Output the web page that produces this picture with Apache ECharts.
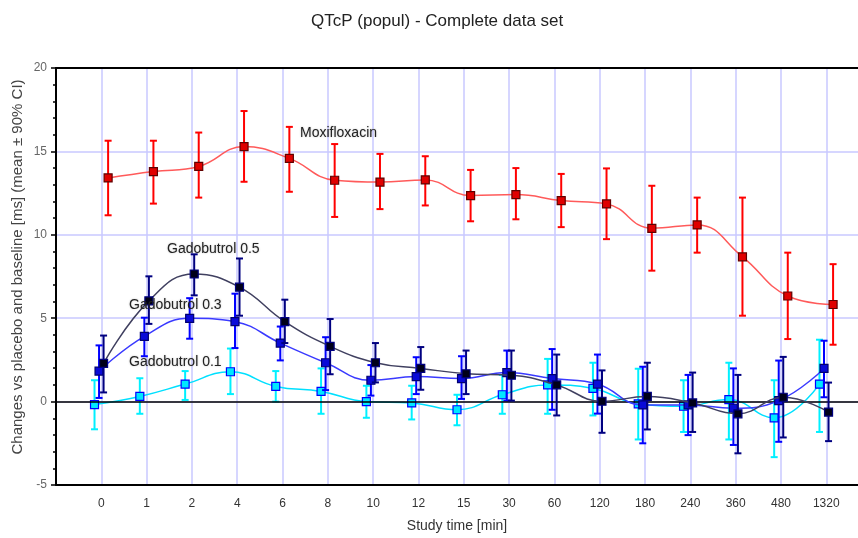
<!DOCTYPE html>
<html>
<head>
<meta charset="utf-8">
<script src="https://cdn.jsdelivr.net/npm/echarts@6/dist/echarts.min.js"></script>
<style>
html,body{margin:0;padding:0;background:#fff;}
#chart{width:858px;height:538px;}
</style>
</head>
<body>
<div id="chart"></div>
<script>
// ---- data ----
const categories = ['0','1','2','4','6','8','10','12','15','30','60','120','180','240','360','480','1320'];

const moxiMean = [13.41,13.79,14.10,15.29,14.58,13.27,13.16,13.29,12.35,12.41,12.05,11.85,10.39,10.59,8.68,6.33,5.82];
const moxiLow  = [11.17,11.87,12.23,13.18,12.58,11.07,11.54,11.76,10.81,10.93,10.46,9.74,7.85,8.93,5.15,3.75,3.41];
const moxiHigh = [15.64,15.64,16.13,17.42,16.47,15.44,14.85,14.71,13.89,14.00,13.65,13.98,12.94,12.23,12.23,8.93,8.24];

const gado05Mean = [2.29,6.04,7.65,6.86,4.79,3.31,2.33,1.99,1.67,1.58,1.00,0.02,0.31,-0.08,-0.73,0.26,-0.63];
const gado05Low  = [0.55,4.66,6.37,5.15,3.51,1.64,1.15,0.71,0.45,0.06,-0.83,-1.87,-1.67,-1.82,-3.10,-2.15,-2.37];
const gado05High = [3.96,7.51,8.83,8.58,6.11,4.95,3.51,3.27,3.06,3.06,2.82,1.87,2.33,1.74,1.60,2.68,1.14];

const gado03Mean = [1.83,3.91,4.99,4.79,3.51,2.33,1.28,1.50,1.38,1.74,1.38,1.05,-0.20,-0.20,-0.40,0.06,1.99];
const gado03Low  = [0.22,2.72,3.77,3.21,2.47,0.69,0.36,0.45,0.16,0.06,-0.49,-0.72,-2.50,-2.01,-2.60,-2.41,0.26];
const gado03High = [3.37,5.03,6.20,6.47,4.50,3.86,2.19,2.66,2.72,3.06,3.15,2.82,2.09,1.60,1.99,2.46,3.65];

const gado01Mean = [-0.18,0.31,1.05,1.79,0.91,0.61,0.00,-0.08,-0.49,0.41,1.00,0.79,-0.14,-0.28,0.12,-0.97,1.05];
const gado01Low  = [-1.66,-0.73,0.10,0.45,0.00,-0.73,-0.97,-1.07,-1.42,-0.73,-0.73,-0.83,-2.27,-1.82,-2.27,-3.33,-1.82];
const gado01High = [1.28,1.40,1.83,3.18,1.83,1.99,0.95,0.95,0.41,1.60,2.56,2.33,1.97,1.28,2.33,1.28,3.71];

const yTicks = [-5,0,5,10,15,20];

const titleText = 'QTcP (popul) - Complete data set';
const xTitle = 'Study time [min]';
const yTitle = 'Changes vs placebo and baseline [ms] (mean \u00b1 90% CI)';

// ---- chart ----
const FONT = '"Liberation Sans", Arial, sans-serif';
const chart = echarts.init(document.getElementById('chart'), null, {renderer:'canvas'});

function errRender(color){
  return function(params, api){
    const x = api.value(0);
    const lo = api.coord([x, api.value(1)]);
    const hi = api.coord([x, api.value(2)]);
    const w = 3.5;
    const st = {stroke: color, lineWidth: 2};
    return {
      type:'group',
      children:[
        {type:'line', shape:{x1:lo[0], y1:lo[1], x2:hi[0], y2:hi[1]}, style:st},
        {type:'line', shape:{x1:lo[0]-w, y1:lo[1], x2:lo[0]+w, y2:lo[1]}, style:st},
        {type:'line', shape:{x1:hi[0]-w, y1:hi[1], x2:hi[0]+w, y2:hi[1]}, style:st}
      ]
    };
  };
}

function makeSeries(name, mean, low, high, off, lineColor, barColor, fill, border, z){
  return [
    {
      type:'custom', name: name+' CI', z: z,
      data: low.map((l,i)=>[i+off, l, high[i]]),
      encode:{x:0, y:[1,2]},
      renderItem: errRender(barColor),
      silent:true
    },
    {
      type:'line', name: name, z: z+1,
      data: mean.map((v,i)=>[i+off, v]),
      smooth: 0.45,
      symbol:'rect', symbolSize: 8,
      showAllSymbol:true,
      lineStyle:{color: lineColor, width: 1.5},
      itemStyle:{color: fill, borderColor: border, borderWidth: 1.2},
      silent:true
    }
  ];
}

const series = [].concat(
  makeSeries('Gadobutrol 0.1', gado01Mean, gado01Low, gado01High, -0.15, '#00e0ff', '#00f0ff', '#00e8ff', '#0000ff', 2),
  makeSeries('Gadobutrol 0.3', gado03Mean, gado03Low, gado03High, -0.05, '#3a3aff', '#0000ff', '#0a0ad8', '#000070', 4),
  makeSeries('Gadobutrol 0.5', gado05Mean, gado05Low, gado05High, 0.05, '#404060', '#000080', '#000018', '#000080', 6),
  makeSeries('Moxifloxacin', moxiMean, moxiLow, moxiHigh, 0.15, '#ff5a5a', '#ff0000', '#e00000', '#600000', 8)
);

// zero reference line
series.push({
  type:'line', data:[], z:1, silent:true,
  markLine:{
    silent:true, symbol:'none', animation:false,
    label:{show:false},
    lineStyle:{color:'#000', width:1.5, type:'solid'},
    data:[{yAxis:0}]
  }
});

const option = {
  animation:false,
  backgroundColor:'#ffffff',
  title:{
    text:titleText, left:306, top:8,
    textStyle:{fontFamily:FONT, fontSize:17, fontWeight:'normal', color:'#222'}
  },
  grid:{left:56, right:0, top:68, bottom:47, containLabel:false},
  xAxis:[{
    type:'value', min:-1, max:16.7, interval:1,
    name:xTitle, nameLocation:'middle', nameGap:34,
    nameTextStyle:{fontFamily:FONT, fontSize:14, color:'#333'},
    axisLine:{show:true, onZero:false, lineStyle:{color:'#000', width:2}},
    axisTick:{show:false},
    axisLabel:{
      fontFamily:FONT, fontSize:12, color:'#333', margin:13,
      showMinLabel:false, showMaxLabel:false,
      formatter:function(v){
        const i = Math.round(v);
        if (Math.abs(v-i) > 1e-6 || i < 0 || i >= categories.length) return '';
        return categories[i];
      }
    },
    splitLine:{show:true, showMinLine:false, showMaxLine:false, lineStyle:{color:'#c8c8ff', width:1.5}}
  },{
    type:'value', position:'top', min:-1, max:16.7, interval:1,
    axisLine:{show:true, onZero:false, lineStyle:{color:'#000', width:2}},
    axisTick:{show:false}, axisLabel:{show:false}, splitLine:{show:false}
  }],
  yAxis:{
    type:'value', min:yTicks[0], max:yTicks[yTicks.length-1], interval:5,
    axisLine:{show:true, onZero:false, lineStyle:{color:'#000', width:2}},
    axisTick:{show:true, length:5, lineStyle:{color:'#000', width:1.5}},
    minorTick:{show:true, splitNumber:5, length:3, lineStyle:{color:'#000', width:1.5}},
    axisLabel:{fontFamily:FONT, fontSize:12, color:'#666', margin:9},
    splitLine:{show:true, lineStyle:{color:'#c8c8ff', width:1.5}}
  },
  graphic:[
    {type:'text', x:18, y:267, rotation:Math.PI/2,
     style:{text:yTitle, fontFamily:FONT, fontSize:15, fill:'#444', textAlign:'center', textVerticalAlign:'middle'}},
    {type:'text', x:300, y:133, z:20,
     style:{text:'Moxifloxacin', fontFamily:FONT, fontSize:14, fill:'#222', textVerticalAlign:'middle', textShadowColor:'rgba(0,0,0,0.25)', textShadowBlur:2}},
    {type:'text', x:167, y:249, z:20,
     style:{text:'Gadobutrol 0.5', fontFamily:FONT, fontSize:14, fill:'#222', textVerticalAlign:'middle', textShadowColor:'rgba(0,0,0,0.25)', textShadowBlur:2}},
    {type:'text', x:129, y:305, z:20,
     style:{text:'Gadobutrol 0.3', fontFamily:FONT, fontSize:14, fill:'#222', textVerticalAlign:'middle', textShadowColor:'rgba(0,0,0,0.25)', textShadowBlur:2}},
    {type:'text', x:129, y:362, z:20,
     style:{text:'Gadobutrol 0.1', fontFamily:FONT, fontSize:14, fill:'#222', textVerticalAlign:'middle', textShadowColor:'rgba(0,0,0,0.25)', textShadowBlur:2}}
  ],
  series:series
};
chart.setOption(option);
</script>
</body>
</html>
